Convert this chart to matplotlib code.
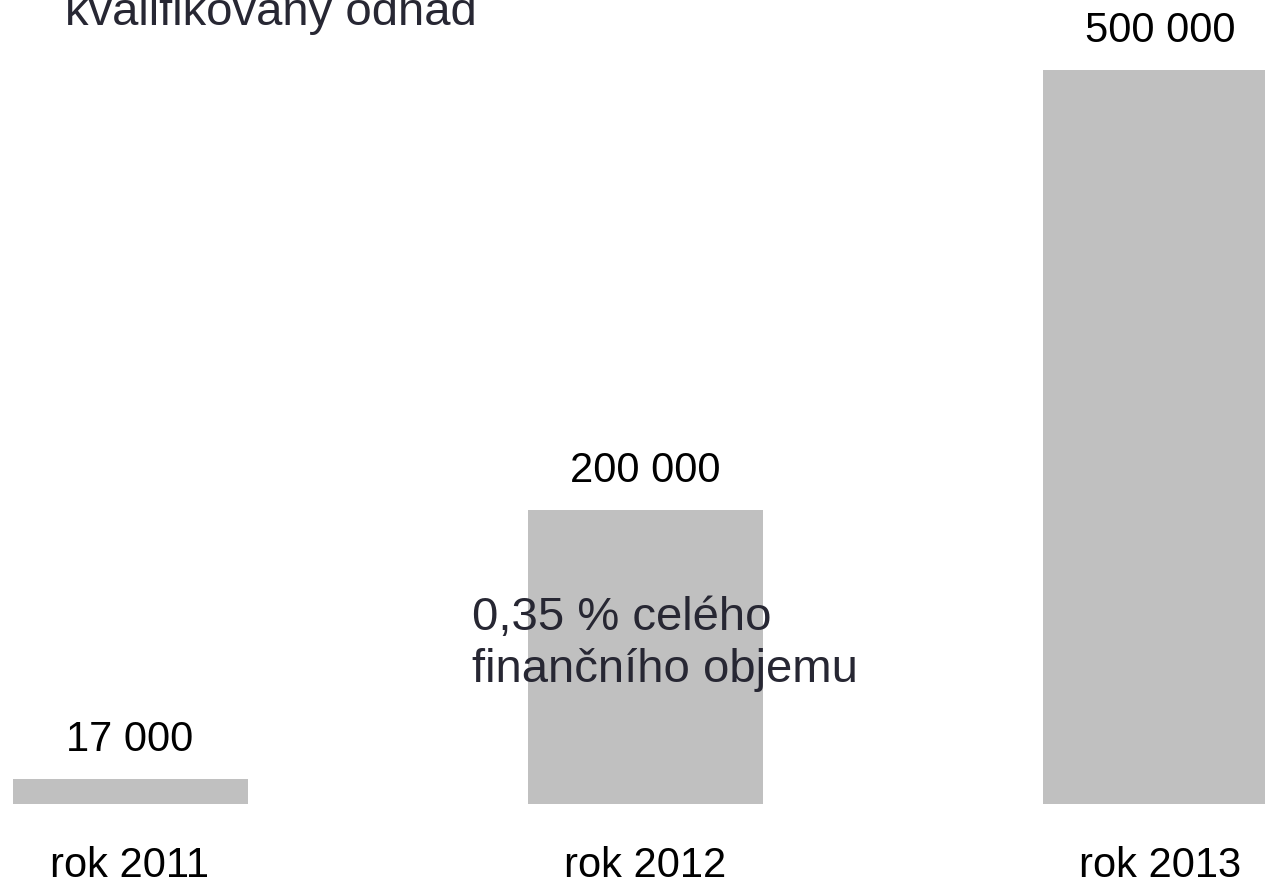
import matplotlib
matplotlib.use("Agg")
import matplotlib.pyplot as plt

categories = ["rok 2011", "rok 2012", "rok 2013"]
values = [17000, 200000, 500000]
value_labels = ["17 000", "200 000", "500 000"]
title = "kvalifikovaný odhad"
note = "0,35 % celého\nfinančního objemu"

plt.rcParams['font.family'] = ['Liberation Sans', 'DejaVu Sans']

W, H = 1265, 887
fig = plt.figure(figsize=(W / 100, H / 100), dpi=100)
ax = fig.add_axes([0, 0, 1, 1])
ax.set_axis_off()

x = list(range(len(categories)))
unit = 515.0  # pixels per category
ax.set_xlim(-130 / unit, (W - 130) / unit)
px_per_val = 734.0 / 500000
ax.set_ylim(-82 / px_per_val, (H - 82) / px_per_val)

ax.bar(x, values, width=235 / unit, color="#c0c0c0", zorder=1)

for xi, v, lab in zip(x, values, value_labels):
    ax.annotate(lab, xy=(xi, v), xytext=(0, 40), textcoords="offset pixels",
                ha="center", va="center", fontsize=30, color="black")

for xi, c in zip(x, categories):
    ax.annotate(c, xy=(xi, 0), xytext=(0, -61), textcoords="offset pixels",
                ha="center", va="center", fontsize=30, color="black")

fig.text(65 / W, 1 - 25 / H, title, ha="left", va="baseline",
         fontsize=34, color="#272733")
fig.text(472 / W, 1 - 682 / H, note, ha="left", va="baseline",
         fontsize=34, color="#272733", linespacing=1.24, zorder=5)

fig.savefig("out.png", dpi=100)
